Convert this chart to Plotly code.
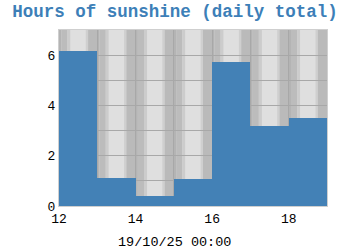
import plotly.graph_objects as go

days = [12, 13, 14, 15, 16, 17, 18]
sunshine_hours = [6.15, 1.12, 0.38, 1.06, 5.74, 3.19, 3.52]
x_ticks = [12, 14, 16, 18]
y_ticks = [0, 2, 4, 6]
title_text = "Hours of sunshine (daily total)"
date_label = "19/10/25 00:00"

# cylinder-like stripe pattern within each day column (fractions, color)
stripe_pattern = [
    (0.00, 0.06, "#b4b4b4"),
    (0.06, 0.22, "#bcbcbc"),
    (0.22, 0.30, "#cccccc"),
    (0.30, 0.70, "#dfdfdf"),
    (0.70, 0.76, "#cfcfcf"),
    (0.76, 1.00, "#bababa"),
]

shapes = []
for d in days:
    for a, b, c in stripe_pattern:
        shapes.append(dict(type="rect", xref="x", yref="paper", x0=d + a, x1=d + b,
                           y0=0, y1=1, fillcolor=c, line=dict(width=0), layer="below"))

fig = go.Figure()
fig.add_trace(go.Bar(x=days, y=sunshine_hours, offset=0, width=1,
                     marker=dict(color="#4381b6", line=dict(width=0))))

mono = "Liberation Mono"
fig.update_layout(
    width=350, height=250,
    margin=dict(l=59, r=23, t=30, b=44),
    paper_bgcolor="white", plot_bgcolor="#dddddd",
    showlegend=False,
    bargap=0,
    shapes=shapes,
    title=dict(text=title_text, x=0.5, xanchor="center", y=0.955, yanchor="middle",
               font=dict(family=mono, size=17.5, color="#3d7fb8", weight="bold")),
    annotations=[dict(text=date_label, xref="paper", yref="paper", x=0.432, y=-0.205,
                      xanchor="center", yanchor="middle", showarrow=False,
                      font=dict(family=mono, size=13.5, color="#000000"))],
    xaxis=dict(range=[12, 19], tickvals=x_ticks, ticks="", showgrid=False,
               tickfont=dict(family=mono, size=13, color="#000000"),
               minor=dict(dtick=1, tick0=12, showgrid=True, gridcolor="#a8a8a8", gridwidth=1),
               showline=True, linecolor="#cfcfcf", linewidth=1, mirror=True, zeroline=False),
    yaxis=dict(range=[0, 7], tickvals=y_ticks, ticks="", showgrid=True,
               gridcolor="#a8a8a8", gridwidth=1,
               tickfont=dict(family=mono, size=13, color="#000000"),
               minor=dict(dtick=1, tick0=0, showgrid=True, gridcolor="#a8a8a8", gridwidth=1),
               showline=True, linecolor="#cfcfcf", linewidth=1, mirror=True, zeroline=False),
)

fig.write_html("out.html")
